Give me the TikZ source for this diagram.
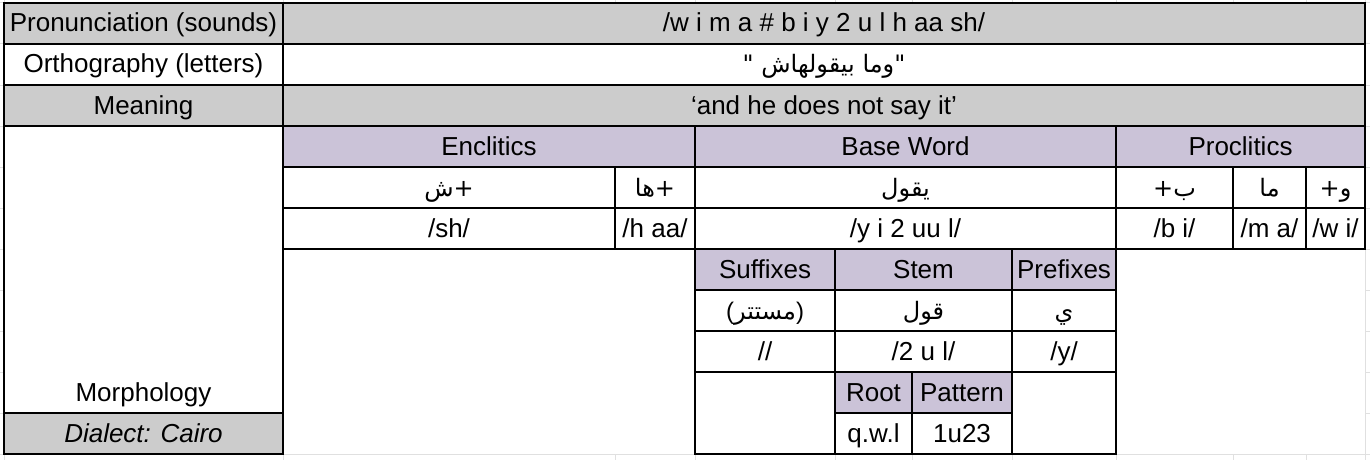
\documentclass[tikz,border=0pt]{standalone}
\usepackage{fontspec}
\setmainfont{Liberation Sans}
\newfontfamily\arabicfont[Script=Arabic]{DejaVu Sans}
\newfontfamily\latinfont{Liberation Sans}
\TeXXeTstate=1
\definecolor{hdrgray}{HTML}{CCCCCC}
\definecolor{hdrpurple}{HTML}{CBC3D8}
\definecolor{gridgray}{HTML}{E0E0E0}
\begin{document}
\begin{tikzpicture}[x=1pt,y=-1pt,
  txt/.style={anchor=base, inner sep=0pt, font=\fontsize{26}{30}\selectfont},
  ar/.style={anchor=base, inner sep=0pt, font=\fontsize{24}{28}\arabicfont},
  cellborder/.style={draw=black, line width=1.7pt},
  sheetgrid/.style={draw=gridgray, line width=1pt}]
\useasboundingbox (0,0) rectangle (1370,460);
\fill[white] (0,0) rectangle (1370,460);
% spreadsheet gridlines
\foreach \gx in {4,283,615,695,835,912,1012,1116,1233,1306,1365}{
  \draw[sheetgrid] (\gx,0) -- (\gx,3);
  \draw[sheetgrid] (\gx,454) -- (\gx,460);
}
\foreach \gy in {3,44,85,126,167,208,249,290,331,372,413,454}{
  \draw[sheetgrid] (0,\gy) -- (4,\gy);
  \draw[sheetgrid] (1365,\gy) -- (1370,\gy);
}
\draw[sheetgrid] (1365,249) -- (1365,454);
\draw[sheetgrid] (283,454) -- (695,454);
\draw[sheetgrid] (1116,454) -- (1365,454);
% fills
\fill[hdrgray] (4,3) rectangle (1365,44);
\fill[hdrgray] (4,85) rectangle (1365,126);
\fill[hdrgray] (4,413) rectangle (283,454);
\fill[hdrpurple] (283,126) rectangle (1365,167);
\fill[hdrpurple] (695,249) rectangle (1116,290);
\fill[hdrpurple] (835,372) rectangle (1012,413);
% borders
\foreach \ya/\yb in {3/44,44/85,85/126}{
  \draw[cellborder] (4,\ya) rectangle (283,\yb);
  \draw[cellborder] (283,\ya) rectangle (1365,\yb);
}
\draw[cellborder] (4,126) rectangle (283,413);
\draw[cellborder] (4,413) rectangle (283,454);
\draw[cellborder] (283,126) rectangle (695,167);
\draw[cellborder] (695,126) rectangle (1116,167);
\draw[cellborder] (1116,126) rectangle (1365,167);
\foreach \ya/\yb in {167/208,208/249}{
  \foreach \xa/\xb in {283/615,615/695,695/1116,1116/1233,1233/1306,1306/1365}{
    \draw[cellborder] (\xa,\ya) rectangle (\xb,\yb);
  }
}
\foreach \ya/\yb in {249/290,290/331,331/372}{
  \foreach \xa/\xb in {695/835,835/1012,1012/1116}{
    \draw[cellborder] (\xa,\ya) rectangle (\xb,\yb);
  }
}
\draw[cellborder] (695,372) rectangle (835,454);
\draw[cellborder] (835,372) rectangle (912,413);
\draw[cellborder] (912,372) rectangle (1012,413);
\draw[cellborder] (835,413) rectangle (912,454);
\draw[cellborder] (912,413) rectangle (1012,454);
\draw[cellborder] (1012,372) rectangle (1116,454);
% texts
\node[txt] (pronL) at (143.5,32) {Pronunciation (sounds)};
\node[txt] (pronV) at (824,32) {/w i m a \# b i y 2 u l h aa sh/};
\node[txt] (orthL) at (143.5,73) {Orthography (letters)};
\node[ar] (orthV) at (824,73) {"\ \beginR وما بيقولهاش\endR"};
\node[txt] (meanL) at (143.5,114) {Meaning};
\node[txt] (meanV) at (824,114) {‘and he does not say it’};
\node[txt] (encl) at (489,155) {Enclitics};
\node[txt] (base) at (905.5,155) {Base Word};
\node[txt] (procl) at (1240.5,155) {Proclitics};
\node[ar] (shA) at (449,196) {\beginR+{}ش\endR};
\node[ar] (haA) at (655,196) {\beginR+{}ها\endR};
\node[ar] (yqwlA) at (905.5,196) {\beginR يقول\endR};
\node[ar] (biA) at (1174.5,196) {\beginR ب{}+\endR};
\node[ar] (maA) at (1269.5,196) {\beginR ما\endR};
\node[ar] (waA) at (1335.5,196) {\beginR و{}+\endR};
\node[txt] (shP) at (449,237) {/sh/};
\node[txt] (haP) at (655,237) {/h aa/};
\node[txt] (yqwlP) at (905.5,237) {/y i 2 uu l/};
\node[txt] (biP) at (1174.5,237) {/b i/};
\node[txt] (maP) at (1269.5,237) {/m a/};
\node[txt] (waP) at (1335.5,237) {/w i/};
\node[txt] (suff) at (765,278) {Suffixes};
\node[txt] (stem) at (923.5,278) {Stem};
\node[txt] (pref) at (1064,278) {Prefixes};
\node[ar] (suffA) at (765,319) {{\latinfont(}\beginR مستتر\endR{\latinfont)}};
\node[ar] (stemA) at (923.5,319) {\beginR قول\endR};
\node[ar] (prefA) at (1064,319) {\beginR ي\endR};
\node[txt] (suffP) at (765,360) {//};
\node[txt] (stemP) at (923.5,360) {/2 u l/};
\node[txt] (prefP) at (1064,360) {/y/};
\node[txt] (morph) at (143.5,401) {Morphology};
\node[txt] (root) at (873.5,401) {Root};
\node[txt] (patt) at (962,401) {Pattern};
\node[txt,font=\fontsize{26}{30}\selectfont\itshape] (dial) at (143.5,442) {Dialect: Cairo};
\node[txt] (rootV) at (873.5,442) {q.w.l};
\node[txt] (pattV) at (962,442) {1u23};
\end{tikzpicture}
\end{document}
